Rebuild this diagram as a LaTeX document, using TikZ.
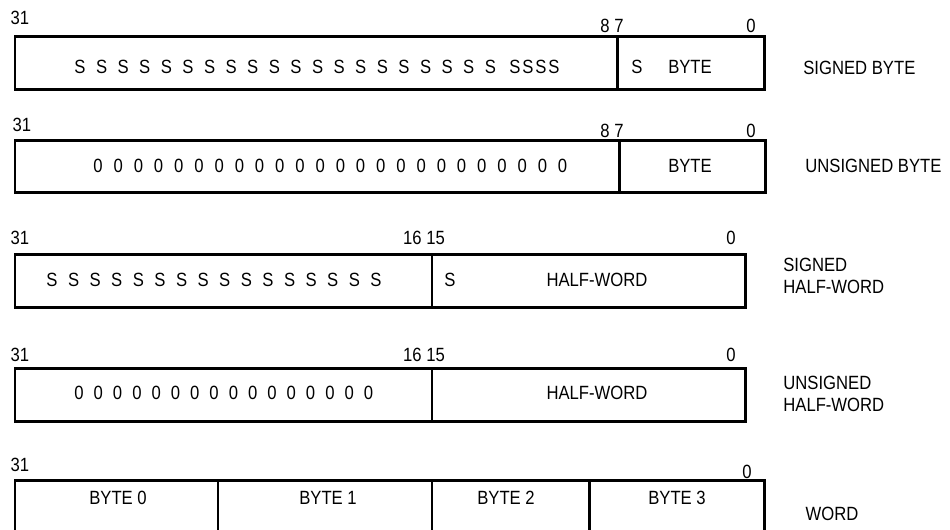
\documentclass[tikz,border=0pt]{standalone}
\usepackage{fontspec}
\setmainfont[FakeStretch=0.87]{Liberation Sans}
\usetikzlibrary{positioning}

\tikzset{
  field/.style={line width=1.7pt},
  bit/.style={font=\fontsize{10.9}{12.5}\selectfont, inner sep=0pt},
  typelbl/.style={bit, align=left, anchor=west},
}

\begin{document}
\begin{tikzpicture}[x=0.02cm, y=-0.02cm]
    \clip (0,0) rectangle (950,529);

    % signed byte
    \draw[field] (15,36) rectangle (764,89) (617,36) -- (617,89);
    \node[bit] (sb31) at (20,18) {31};
    \node[bit] (sb87) at (612,26) {8 7};
    \node[bit] (sb0) at (751,26) {0};
    \foreach \i in {0,...,19}
        \node[bit] (sbs\i) at ({80+21.6*\i},67) {S};
    \foreach \i in {0,...,3}
        \node[bit] (sbt\i) at ({515+13*\i},67) {S};
    \node[bit] (sbsign) at (637,67) {S};
    \node[bit] (sbbyte) at (690,67) {BYTE};
    \node[typelbl] (sbname) at (803,68) {SIGNED BYTE};

    % unsigned byte
    \draw[field] (15,140) rectangle (765,192) (619,140) -- (619,192);
    \node[bit] (ub31) at (22,125) {31};
    \node[bit] (ub87) at (612,131) {8 7};
    \node[bit] (ub0) at (751,131) {0};
    \foreach \i in {0,...,23}
        \node[bit] (ubz\i) at ({98+20.2*\i},166) {0};
    \node[bit] (ubbyte) at (690,166) {BYTE};
    \node[typelbl] (ubname) at (805,166) {UNSIGNED BYTE};

    % signed half-word
    \draw[field] (15,254) rectangle (745,307) (432,254) -- (432,307);
    \node[bit] (sh31) at (20,238) {31};
    \node[bit] (sh1615) at (424,238) {16 15};
    \node[bit] (sh0) at (731,238) {0};
    \foreach \i in {0,...,15}
        \node[bit] (shs\i) at ({52+21.6*\i},280) {S};
    \node[bit] (shsign) at (450,280) {S};
    \node[bit] (shhalf) at (597,280) {HALF-WORD};
    \node[typelbl] (shname) at (783,276) {SIGNED\\HALF-WORD};

    % unsigned half-word
    \draw[field] (15,368) rectangle (745,421) (432,368) -- (432,421);
    \node[bit] (uh31) at (20,355) {31};
    \node[bit] (uh1615) at (424,355) {16 15};
    \node[bit] (uh0) at (731,355) {0};
    \foreach \i in {0,...,15}
        \node[bit] (uhz\i) at ({79+19.3*\i},393) {0};
    \node[bit] (uhhalf) at (597,393) {HALF-WORD};
    \node[typelbl] (uhname) at (783,394) {UNSIGNED\\HALF-WORD};

    % word
    \draw[field] (15,540) -- (15,480) -- (764,480) -- (764,540);
    \foreach \x in {218,432,589}
        \draw[field] (\x,480) -- (\x,540);
    \node[bit] (w31) at (20,465) {31};
    \node[bit] (w0) at (747,472) {0};
    \node[bit] (wb0) at (118,498) {BYTE 0};
    \node[bit] (wb1) at (328,498) {BYTE 1};
    \node[bit] (wb2) at (506,498) {BYTE 2};
    \node[bit] (wb3) at (677,498) {BYTE 3};
    \node[bit] (wname) at (832,514) {WORD};
\end{tikzpicture}
\end{document}
